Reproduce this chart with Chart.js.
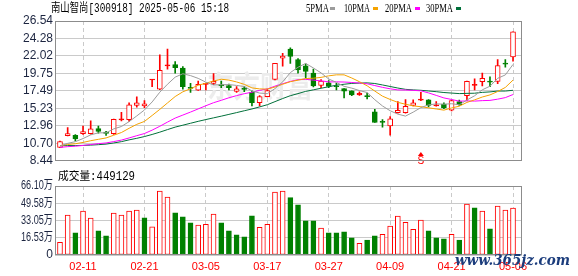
<!DOCTYPE html>
<html><head><meta charset="utf-8">
<script src="https://cdn.jsdelivr.net/npm/chart.js@4/dist/chart.umd.min.js"></script>
<style>
html,body{margin:0;padding:0;background:#fff;width:578px;height:276px;overflow:hidden;}
canvas{position:absolute;left:0;}
#c1{top:0;}
#c2{top:170px;}
</style></head><body>
<canvas id="c1" width="578" height="170" style="width:578px;height:170px"></canvas>
<canvas id="c2" width="578" height="106" style="width:578px;height:106px"></canvas>
<script>
// ---------------- data ----------------
const title = '南山智尚[300918] 2025-05-06 15:18';
const volTitle = '成交量:449129';
const dates = ['02-11','02-21','03-05','03-17','03-27','04-09','04-21','05-06'];
const dateIdx = [3,11,19,27,35,43,51,59];
const priceTicks = [8.44,10.70,12.96,15.23,17.49,19.75,22.02,24.28,26.54];
const volTicks = [0,16.53,33.05,49.58,66.10];
const volTickLabels = ['0','16.53万','33.05万','49.58万','66.10万'];
const maNames = ['5PMA','10PMA','20PMA','30PMA'];
const signalIdx = 47;
const signalText = 'S';

const openP = [10.18,11.69,11.73,11.94,11.94,12.61,12.15,11.94,13.74,13.78,
  15.62,15.54,18.90,17.71,20.72,20.89,20.43,17.96,17.59,18.34,
  18.46,18.30,18.17,17.42,17.84,17.29,15.95,16.75,18.97,21.73,
  22.90,21.56,20.72,19.80,18.21,18.55,18.13,17.80,17.50,16.96,
  16.88,14.78,13.47,12.94,14.66,14.66,15.62,16.29,16.33,15.55,
  15.79,14.99,16.12,16.88,18.21,18.67,18.76,18.72,21.06,21.90];
const closeP = [10.93,11.98,11.27,12.23,12.57,12.23,11.98,13.82,13.85,15.70,
  15.95,15.83,19.00,20.14,20.85,20.51,18.05,17.80,18.34,18.42,
  18.72,18.17,17.92,17.75,17.67,15.95,16.75,17.54,21.05,21.98,
  21.95,20.22,20.01,18.13,18.76,18.08,18.03,17.46,16.96,17.17,
  16.75,13.40,13.42,13.86,14.99,15.49,15.95,16.37,15.62,15.60,
  15.29,16.25,15.70,18.72,18.34,19.13,18.63,20.77,20.95,25.14];
const highP = [10.98,12.73,11.85,12.94,13.61,12.94,12.27,13.85,14.70,15.95,
  16.71,16.25,19.00,22.15,22.90,21.27,20.64,18.47,18.76,18.51,
  19.72,18.76,18.38,18.05,18.05,17.50,16.88,17.71,21.05,22.36,
  23.07,21.69,20.98,20.31,18.97,18.84,18.47,17.80,17.50,17.38,
  17.21,15.12,13.78,14.16,16.12,16.37,16.33,17.29,16.37,16.12,
  15.95,16.30,16.29,18.75,19.05,19.80,19.30,21.56,21.56,25.14];
const lowP = [10.15,11.66,11.02,11.85,11.90,12.02,11.73,11.85,13.61,13.53,
  15.37,15.33,18.05,17.65,20.31,19.80,17.71,17.29,17.55,17.63,
  18.30,17.92,17.63,17.29,17.38,15.54,15.54,16.71,18.90,20.68,
  21.06,19.80,19.18,18.01,17.92,17.92,17.63,16.58,16.88,16.90,
  16.46,13.40,12.78,11.77,14.62,14.62,15.54,16.21,15.41,15.50,
  15.20,14.91,15.62,16.25,17.63,18.13,18.05,18.42,20.56,21.35];
// volume in 万
const volume = [12.2,38.2,21.2,42.0,35.3,23.1,18.3,40.1,38.2,42.0,
  43.0,35.6,27.0,61.3,55.5,40.4,36.6,30.8,28.6,29.5,
  39.2,30.8,23.1,19.3,17.3,37.5,26.6,29.5,60.3,61.3,
  54.9,48.1,32.7,32.7,25.7,21.2,21.2,22.1,16.4,11.2,
  14.4,18.3,19.9,27.6,37.2,31.4,24.7,33.4,23.1,16.4,
  15.4,19.9,14.4,48.8,45.2,42.0,25.0,46.8,43.0,44.91];
const ma5 = [10.35,10.70,10.92,11.32,11.80,12.06,12.06,12.57,12.88,13.51,
  14.25,15.02,16.06,17.32,18.35,19.27,19.71,19.47,19.11,18.62,
  18.27,18.29,18.31,18.20,18.05,17.49,17.21,17.13,17.79,18.65,
  19.86,20.55,21.05,20.46,19.82,19.03,18.59,18.08,17.85,17.53,
  17.28,16.35,15.54,14.92,14.48,14.23,14.74,15.33,15.68,15.81,
  15.77,15.83,15.69,16.31,16.86,17.63,18.10,19.12,19.56,20.92];
const ma10 = [10.40,10.55,10.65,10.82,11.04,11.22,11.40,11.75,12.10,12.65,
  13.16,13.54,14.31,15.10,15.93,16.76,17.37,17.77,18.22,18.49,
  18.77,19.00,18.89,18.65,18.34,17.88,17.75,17.72,17.99,18.35,
  18.68,18.88,19.09,19.13,19.24,19.44,19.57,19.57,19.16,18.68,
  18.15,17.47,16.81,16.38,16.01,15.76,15.55,15.44,15.30,15.15,
  15.00,15.28,15.51,16.00,16.33,16.70,16.97,17.41,17.94,18.89];
const ma20 = [10.18,10.27,10.33,10.43,10.55,10.66,10.75,10.93,11.12,11.40,
  11.69,11.97,12.41,12.91,13.45,13.97,14.36,14.75,15.16,15.57,
  15.96,16.27,16.60,16.88,17.13,17.32,17.56,17.74,18.11,18.42,
  18.72,18.94,18.99,18.89,18.79,18.66,18.66,18.64,18.58,18.51,
  18.41,18.18,17.95,17.76,17.62,17.60,17.56,17.50,17.23,16.91,
  16.58,16.38,16.16,16.19,16.17,16.23,16.26,16.42,16.62,17.02];
const ma30 = [10.40,10.41,10.42,10.43,10.47,10.53,10.60,10.75,10.92,11.15,
  11.35,11.58,11.85,12.15,12.48,12.80,13.05,13.30,13.55,13.78,
  14.00,14.22,14.45,14.68,14.92,15.15,15.42,15.70,16.10,16.50,
  16.87,17.14,17.43,17.63,17.83,18.03,18.23,18.35,18.46,18.50,
  18.53,18.45,18.26,18.06,17.86,17.69,17.62,17.57,17.48,17.39,
  17.28,17.21,17.14,17.17,17.19,17.30,17.36,17.47,17.47,17.57];

// ---------------- styles ----------------
const UP = '#ff0000', DN = '#008000';
const MA_COLORS = ['#9c9c9c', '#f5a300', '#ff00ff', '#00703a'];
const X_MIN = -0.65, X_MAX = 60.17;
const GRID = '#cacaca';
const FRAME = '#8c8c8c';

const candleUp = closeP.map((c, i) => c >= openP[i]);
const candleColor = candleUp.map(u => u ? UP : DN);
const bodyFill = closeP.map((c, i) => !candleUp[i] ? DN : (Math.abs(c - openP[i]) < 0.25 ? UP : '#ffffff'));
const volUp = closeP.map((c, i) => i === 0 ? c >= openP[0] : c >= closeP[i - 1]);

function fitText(ctx, text, x, y, w, font, color, align) {
  ctx.save();
  ctx.font = font;
  ctx.fillStyle = color;
  ctx.textBaseline = 'middle';
  ctx.textAlign = 'left';
  const m = ctx.measureText(text).width;
  const s = w ? w / m : 1;
  const ww = m * s;
  const x0 = align === 'right' ? x - ww : (align === 'center' ? x - ww / 2 : x);
  ctx.translate(x0, y);
  ctx.scale(s, 1);
  ctx.fillText(text, 0, 0);
  ctx.restore();
}
function drawFrame(chart) {
  const a = chart.chartArea, ctx = chart.ctx;
  ctx.save();
  ctx.strokeStyle = FRAME;
  ctx.lineWidth = 1;
  ctx.strokeRect(Math.round(a.left) + 0.5, Math.round(a.top) + 0.5,
    Math.round(a.right) - Math.round(a.left) - 1, Math.round(a.bottom) - Math.round(a.top) - 1);
  ctx.restore();
}

const xScaleBase = (showLabels) => ({
  type: 'linear', min: X_MIN, max: X_MAX, offset: false,
  afterBuildTicks: s => { s.ticks = dateIdx.map(v => ({ value: v })); },
  grid: { color: GRID, drawTicks: false, offset: false, lineWidth: 1 },
  border: { display: false, dash: [4, 3] },
  ticks: showLabels ? {
    display: true, autoSkip: false, maxRotation: 0, minRotation: 0, padding: 5,
    color: '#ff0000', font: { family: 'Liberation Sans', size: 11 },
    callback: (v) => { const k = dateIdx.indexOf(v); return k >= 0 ? dates[k] : ''; }
  } : { display: false }
});

// ---------------- price chart ----------------
const pricePlugin = {
  id: 'pricePlugin',
  beforeDatasetsDraw(chart) {
    fitText(chart.ctx, '东方财富', 207, 86, 106, 'bold 30px "Noto Sans CJK SC"', '#ececec');
  },
  afterDatasetsDraw(chart) {
    const ctx = chart.ctx;
    const x = chart.scales.x.getPixelForValue(signalIdx);
    ctx.save();
    ctx.fillStyle = UP;
    ctx.beginPath();
    ctx.moveTo(x, 152); ctx.lineTo(x - 3, 156); ctx.lineTo(x + 3, 156); ctx.closePath(); ctx.fill();
    ctx.restore();
    fitText(ctx, signalText, x, 161.5, 0, '10px "Liberation Sans"', UP, 'center');
  },
  afterDraw(chart) {
    const ctx = chart.ctx;
    drawFrame(chart);
    fitText(ctx, title, 51, 9, 178, '12px "Liberation Mono", "Noto Sans CJK SC"', '#000000');
    const items = [[306, 23, 330], [344, 26, 373], [385, 27, 415], [426, 27, 456]];
    items.forEach((it, k) => {
      fitText(ctx, maNames[k], it[0], 9, it[1], '12px "Liberation Serif"', '#000000');
      ctx.fillStyle = MA_COLORS[k];
      ctx.fillRect(it[2], 7, 5, 3);
    });
  }
};

const maSets = [ma5, ma10, ma20, ma30].map((arr, k) => ({
  type: 'line', data: arr.map((v, i) => ({ x: i, y: v })),
  borderColor: MA_COLORS[k], borderWidth: 1, pointRadius: 0, fill: false, tension: 0
}));

new Chart(document.getElementById('c1'), {
  type: 'bar',
  data: {
    datasets: [
      ...maSets,
      { type: 'bar', data: closeP.map((c, i) => ({ x: i, y: [openP[i], c] })),
        backgroundColor: bodyFill, borderColor: candleColor, borderWidth: 1,
        borderSkipped: false, barThickness: 5, grouped: false, minBarLength: 1 },
      { type: 'bar', data: closeP.map((c, i) => ({ x: i, y: [lowP[i], highP[i]] })),
        backgroundColor: candleColor, borderWidth: 0, barThickness: 1, grouped: false }
    ]
  },
  options: {
    responsive: false, animation: false, devicePixelRatio: 1,
    layout: { padding: { top: 21, right: 56, left: 0, bottom: 0 } },
    plugins: { legend: { display: false }, tooltip: { enabled: false } },
    scales: {
      x: Object.assign(xScaleBase(false), { afterFit: s => { s.height = 4; } }),
      y: {
        type: 'linear', min: 8.44, max: 26.54, beginAtZero: false,
        afterBuildTicks: s => { s.ticks = priceTicks.map(v => ({ value: v })); },
        afterFit: s => { s.width = 55; },
        grid: { color: GRID, drawTicks: false },
        border: { display: false },
        ticks: { padding: 2, color: '#1c2540', font: { family: 'Liberation Sans', size: 12 },
          callback: (v) => { const k = priceTicks.indexOf(v); return k >= 0 ? priceTicks[k].toFixed(2) : ''; } }
      }
    }
  },
  plugins: [pricePlugin]
});

// ---------------- volume chart ----------------
const volPlugin = {
  id: 'volPlugin',
  afterDraw(chart) {
    const ctx = chart.ctx;
    drawFrame(chart);
    fitText(ctx, volTitle, 58, 7, 77, '12px "Liberation Mono", "Noto Sans CJK SC"', '#000000');
    const ys = chart.scales.y;
    volTicks.forEach((v, k) => {
      const y = ys.getPixelForValue(v);
      const lbl = volTickLabels[k];
      fitText(ctx, lbl, 53, y, lbl.length > 1 ? 32 : 0, '12px "Liberation Sans", "Noto Sans CJK SC"', '#1c2540', 'right');
    });
    fitText(ctx, 'www.365jz.com', 455, 91, 115, 'bold italic 15px "DejaVu Serif"', '#1b3c7c');
  }
};

new Chart(document.getElementById('c2'), {
  type: 'bar',
  data: {
    datasets: [{
      data: volume.map((v, i) => ({ x: i, y: v })),
      backgroundColor: volUp.map(u => u ? '#ffffff' : DN),
      borderColor: volUp.map(u => u ? UP : DN),
      borderWidth: 1, borderSkipped: false, barThickness: 5, grouped: false
    }]
  },
  options: {
    responsive: false, animation: false, devicePixelRatio: 1,
    layout: { padding: { top: 16, right: 56, left: 0, bottom: 0 } },
    plugins: { legend: { display: false }, tooltip: { enabled: false } },
    scales: {
      x: Object.assign(xScaleBase(true), { afterFit: s => { s.height = 21; } }),
      y: {
        type: 'linear', min: 0, max: 66.10,
        afterBuildTicks: s => { s.ticks = volTicks.map(v => ({ value: v })); },
        afterFit: s => { s.width = 55; },
        grid: { color: GRID, drawTicks: false },
        border: { display: false },
        ticks: { display: false }
      }
    }
  },
  plugins: [volPlugin]
});
</script></body></html>
